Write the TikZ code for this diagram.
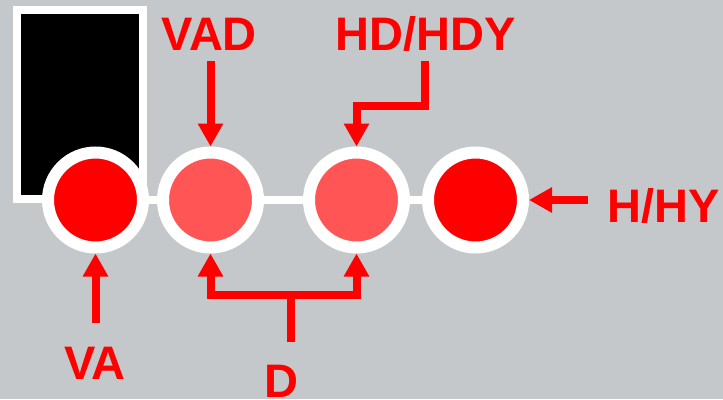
\documentclass[tikz,border=0pt]{standalone}
\usepackage{fontspec}
\setmainfont{Liberation Sans}
\usetikzlibrary{arrows.meta}
\definecolor{bggray}{HTML}{C4C8CA}
\definecolor{lightred}{HTML}{FF5555}
\definecolor{pure}{HTML}{FF0000}
\begin{document}
\begin{tikzpicture}[x=1pt,y=-1pt,
  lamp/.style={circle,draw=white,line width=12pt,minimum size=95pt,inner sep=0pt},
  redline/.style={draw=pure,line width=8pt,line join=miter},
  arr/.style={redline,-{Triangle[width=24pt,length=23pt]}},
  lbl/.style={text=pure,font=\bfseries\fontsize{47}{47}\selectfont,inner sep=0pt}]
\fill[bggray] (0,0) rectangle (723,399);
\useasboundingbox (0,0) rectangle (723,399);
% black box
\draw[white,line width=8pt,fill=black] (17,10) rectangle (143,199);
% connecting line
\coordinate (l1) at (95.5,200);
\coordinate (l4) at (475.5,200);
\draw[white,line width=8pt] (l1) -- (l4);
% lamps
\node[lamp,fill=pure] (c1) at (95.5,200) {};
\node[lamp,fill=lightred] (c2) at (210.5,200) {};
\node[lamp,fill=lightred] (c3) at (356.5,200) {};
\node[lamp,fill=pure] (c4) at (475.5,200) {};
% labels
\node[lbl,anchor=base] (tvad) at (209,50) {VAD};
\node[lbl,anchor=base] (thd) at (426,50) {HD/HDY};
\node[lbl,anchor=base west] (th) at (607,222) {H/HY};
\node[lbl,anchor=base] (tva) at (95,379) {VA};
\node[lbl,anchor=base] (td) at (281,397) {D};
% arrows
\coordinate (avad) at (210.5,61);
\draw[arr] (avad) -- (c2.north);
\coordinate (ahd0) at (425,61);
\coordinate (ahd1) at (425,106);
\draw[arr] (ahd0) -- (ahd1) -| (c3.north);
\coordinate (ah) at (588,200);
\draw[arr] (ah) -- (c4.east);
\coordinate (ava) at (95.5,323);
\draw[arr] (ava) -- (c1.south);
\coordinate (ad0) at (291,342);
\coordinate (adm) at (291,295);
\draw[redline] (ad0) -- (adm);
\draw[arr] (adm) -| (c2.south);
\draw[arr] (adm) -| (c3.south);
\end{tikzpicture}
\end{document}
